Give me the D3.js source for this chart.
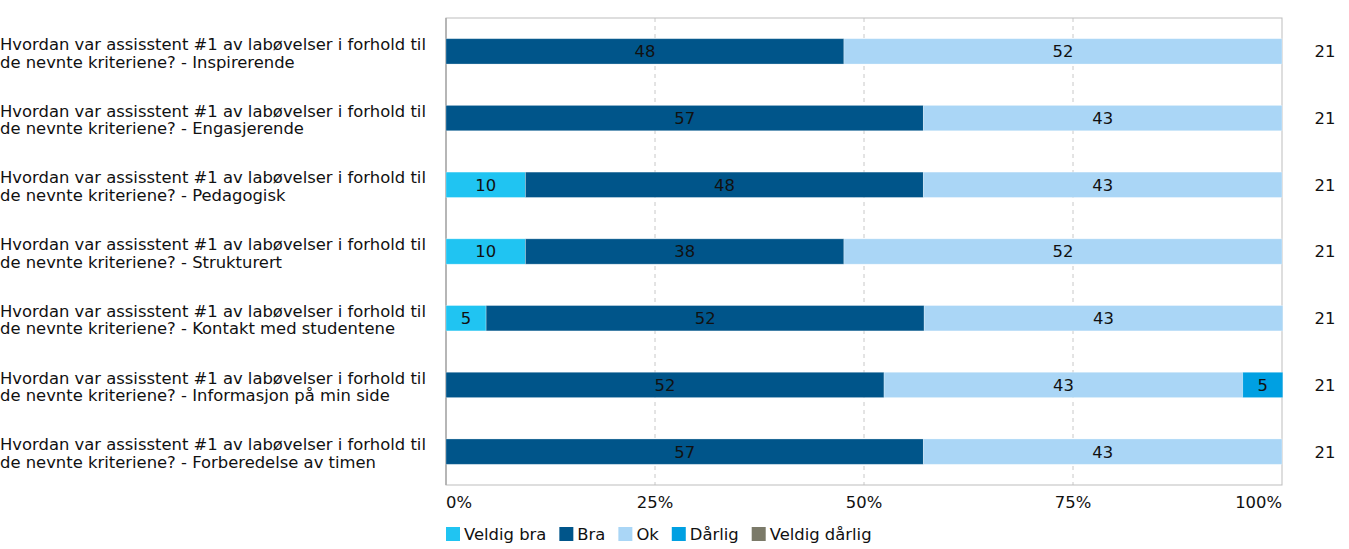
<!DOCTYPE html>
<html>
<head>
<meta charset="utf-8">
<script src="https://cdn.jsdelivr.net/npm/d3@7"></script>
<style>
  body { margin: 0; background: #fff; }
  text { font-family: "DejaVu Sans", Verdana, sans-serif; }
</style>
</head>
<body>
<svg id="chart" width="1349" height="549"></svg>
<script>
// question labels (two lines each)
const questions = [
  "Hvordan var assisstent #1 av labøvelser i forhold til|de nevnte kriteriene? - Inspirerende",
  "Hvordan var assisstent #1 av labøvelser i forhold til|de nevnte kriteriene? - Engasjerende",
  "Hvordan var assisstent #1 av labøvelser i forhold til|de nevnte kriteriene? - Pedagogisk",
  "Hvordan var assisstent #1 av labøvelser i forhold til|de nevnte kriteriene? - Strukturert",
  "Hvordan var assisstent #1 av labøvelser i forhold til|de nevnte kriteriene? - Kontakt med studentene",
  "Hvordan var assisstent #1 av labøvelser i forhold til|de nevnte kriteriene? - Informasjon på min side",
  "Hvordan var assisstent #1 av labøvelser i forhold til|de nevnte kriteriene? - Forberedelse av timen"
];
const categories = ["Veldig bra", "Bra", "Ok", "Dårlig", "Veldig dårlig"];
const colors = ["#20c4f2", "#00558a", "#aad6f6", "#00a0e2", "#7b7a69"];

// percent per category, one array per series
const veldigBra    = [0, 0, 9.5, 9.5, 4.8, 0, 0];
const bra          = [47.6, 57.1, 47.6, 38.1, 52.4, 52.4, 57.1];
const ok           = [52.4, 42.9, 42.9, 52.4, 42.9, 42.9, 42.9];
const darlig       = [0, 0, 0, 0, 0, 4.8, 0];
const veldigDarlig = [0, 0, 0, 0, 0, 0, 0];
const respondents  = [21, 21, 21, 21, 21, 21, 21];
const xTicks = [0, 25, 50, 75, 100];

const series = [veldigBra, bra, ok, darlig, veldigDarlig];

const svg = d3.select("#chart");
const margin = {left: 446, right: 67, top: 18, bottom: 64};
const width = 1349 - margin.left - margin.right;
const height = 549 - margin.top - margin.bottom;
const fs = 16.4;

const g = svg.append("g").attr("transform", `translate(${margin.left},${margin.top})`);

let x = d3.scaleLinear().domain([0, 100]).range([0, width]);
let y = d3.scaleBand().domain(d3.range(questions.length)).range([0, height]).paddingInner(0.62).paddingOuter(0.31);

// grid lines
g.selectAll(".grid").data(xTicks.slice(1, -1)).enter().append("line")
  .attr("x1", d => x(d)).attr("x2", d => x(d))
  .attr("y1", 0).attr("y2", height)
  .attr("stroke", "#c8c8c8").attr("stroke-dasharray", "4,4");

// frame
g.append("rect").attr("width", width).attr("height", height)
  .attr("fill", "none").attr("stroke", "#bdbdbd");
g.append("line").attr("x1", 0).attr("x2", 0).attr("y1", 0).attr("y2", height)
  .attr("stroke", "#a8a8a8").attr("stroke-width", 1.5);

// stacked segments
const rows = questions.map((q, i) => {
  let acc = 0;
  return series.map((s, k) => {
    const seg = {row: i, k: k, x0: acc, v: s[i]};
    acc += s[i];
    return seg;
  });
});

const segs = rows.flat().filter(d => d.v > 0);

g.selectAll(".seg").data(segs).enter().append("rect")
  .attr("x", d => x(d.x0))
  .attr("y", d => y(d.row))
  .attr("width", d => x(d.x0 + d.v) - x(d.x0))
  .attr("height", y.bandwidth())
  .attr("fill", d => colors[d.k])
  .attr("stroke", "#ffffff").attr("stroke-opacity", 0.35).attr("stroke-width", 0.8);

g.selectAll(".segText").data(segs).enter().append("text")
  .attr("x", d => x(d.x0 + d.v / 2))
  .attr("y", d => y(d.row) + y.bandwidth() / 2)
  .attr("dy", "0.36em")
  .attr("text-anchor", "middle")
  .attr("font-size", fs)
  .attr("fill", "#111")
  .text(d => Math.round(d.v));

// respondents
g.selectAll(".n").data(respondents).enter().append("text")
  .attr("x", width + 43)
  .attr("y", (d, i) => y(i) + y.bandwidth() / 2)
  .attr("dy", "0.36em")
  .attr("text-anchor", "middle")
  .attr("font-size", fs)
  .attr("fill", "#111")
  .text(d => d);

// question labels
questions.forEach((q, i) => {
  const lines = q.split("|");
  const cy = y(i) + y.bandwidth() / 2 + 1.5;
  lines.forEach((l, j) => {
    svg.append("text")
      .attr("x", 0)
      .attr("y", margin.top + cy + (j - 0.5) * 17.5)
      .attr("dy", "0.36em")
      .attr("font-size", fs)
      .attr("fill", "#111")
      .text(l);
  });
});

// x tick labels
g.selectAll(".tick").data(xTicks).enter().append("text")
  .attr("x", d => x(d))
  .attr("y", height + 23)
  .attr("text-anchor", (d, i) => i === 0 ? "start" : (i === xTicks.length - 1 ? "end" : "middle"))
  .attr("font-size", fs)
  .attr("fill", "#111")
  .text(d => d + "%");

// legend
const legend = svg.append("g").attr("transform", `translate(${margin.left},527)`);
let lx = 0;
categories.forEach((c, i) => {
  const item = legend.append("g").attr("transform", `translate(${lx},0)`);
  item.append("rect").attr("width", 14).attr("height", 14).attr("fill", colors[i]);
  const t = item.append("text").attr("x", 18).attr("y", 7).attr("dy", "0.36em")
    .attr("font-size", fs).attr("fill", "#111").text(c);
  lx += 18 + t.node().getComputedTextLength() + 13;
});
</script>
</body>
</html>
